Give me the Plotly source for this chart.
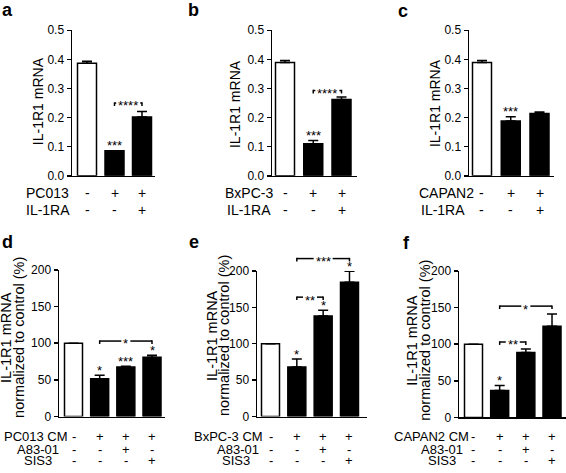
import plotly.graph_objects as go

W, H = 566, 473
FONT = "Liberation Sans, Arial, Helvetica, sans-serif"

# ---------------- data ----------------
mrna_a = [0.387, 0.086, 0.202]
err_a = [0.007, 0.0, 0.019]
mrna_b = [0.389, 0.110, 0.262]
err_b = [0.007, 0.011, 0.009]
mrna_c = [0.389, 0.188, 0.214]
err_c = [0.007, 0.015, 0.005]

norm_d = [100, 51.5, 67.7, 80.9]
err_d = [0, 4.8, 1.0, 2.6]
norm_e = [100, 68, 138, 184.5]
err_e = [0, 11, 8, 15]
norm_f = [100, 36.8, 88.7, 124.6]
err_f = [0, 6.7, 4.8, 16.5]

top_row1 = ["-", "+", "+"]
top_row2 = ["-", "-", "+"]
bot_row1 = ["-", "+", "+", "+"]
bot_row2 = ["-", "-", "+", "-"]
bot_row3 = ["-", "-", "-", "+"]

labels_a = ["PC013", "IL-1RA"]
labels_b = ["BxPC-3", "IL-1RA"]
labels_c = ["CAPAN2", "IL-1RA"]
labels_d = ["PC013 CM", "A83-01", "SIS3"]
labels_e = ["BxPC-3 CM", "A83-01", "SIS3"]
labels_f = ["CAPAN2 CM", "A83-01", "SIS3"]

stars_a = ["", "***", ""]
stars_b = ["", "***", ""]
stars_c = ["", "***", ""]
stars_d = ["", "*", "***", "*"]
stars_e = ["", "*", "*", "*"]
stars_f = ["", "*", "", ""]

# (bar i, bar j, height in data units, label)
brackets_a = [(1, 2, 0.25, "****")]
brackets_b = [(1, 2, 0.293, "****")]
brackets_c = []
brackets_d = [(1, 3, 103, "*")]
brackets_e = [(1, 3, 217, "***"), (1, 2, 164, "**")]
brackets_f = [(1, 3, 152, "*"), (1, 2, 103, "**")]

top_ticks = [0.0, 0.1, 0.2, 0.3, 0.4, 0.5]
bot_ticks = [0, 50, 100, 150, 200]

# ---------------- layout geometry (pixels) ----------------
panels = [
    dict(key="a", vals=mrna_a, errs=err_a, stars=stars_a, brackets=brackets_a,
         rows=[top_row1, top_row2], labels=labels_a,
         xl=72, xr=155, ytop=24, ybot=174, c0=87, s=27.5, ymax=0.5, ticks=top_ticks, fmt=".1f",
         barpx=19, rowy=[192, 209], labx=[47.5, 47.5], title=["IL-1R1 mRNA"], titx=[38], tity=97,
         letter=(0, 15)),
    dict(key="b", vals=mrna_b, errs=err_b, stars=stars_b, brackets=brackets_b,
         rows=[top_row1, top_row2], labels=labels_b,
         xl=272, xr=357, ytop=24, ybot=174, c0=285, s=28.25, ymax=0.5, ticks=top_ticks, fmt=".1f",
         barpx=19, rowy=[192, 209], labx=[248.5, 248.5], title=["IL-1R1 mRNA"], titx=[235], tity=100,
         letter=(186, 15)),
    dict(key="c", vals=mrna_c, errs=err_c, stars=stars_c, brackets=brackets_c,
         rows=[top_row1, top_row2], labels=labels_c,
         xl=469, xr=554, ytop=24, ybot=174, c0=482, s=28.75, ymax=0.5, ticks=top_ticks, fmt=".1f",
         barpx=19, rowy=[192, 209], labx=[446, 443], title=["IL-1R1 mRNA"], titx=[435], tity=99,
         letter=(396, 16)),
    dict(key="d", vals=norm_d, errs=err_d, stars=stars_d, brackets=brackets_d,
         rows=[bot_row1, bot_row2, bot_row3], labels=labels_d,
         xl=59, xr=165, ytop=271, ybot=422, c0=73.5, s=26.17, ymax=200, ticks=bot_ticks, fmt="d",
         barpx=18, rowy=[443, 456, 467], labx=[36, 37.5, 38],
         title=["IL-1R1 mRNA", "normalized to control (%)"], titx=[6, 19], tity=341,
         letter=(0, 255)),
    dict(key="e", vals=norm_e, errs=err_e, stars=stars_e, brackets=brackets_e,
         rows=[bot_row1, bot_row2, bot_row3], labels=labels_e,
         xl=257, xr=367, ytop=272, ybot=422, c0=270.5, s=26.33, ymax=200, ticks=bot_ticks, fmt="d",
         barpx=18, rowy=[443, 456, 467], labx=[228, 237.5, 236],
         title=["IL-1R1 mRNA", "normalized to control (%)"], titx=[212, 224], tity=339,
         letter=(187, 255)),
    dict(key="f", vals=norm_f, errs=err_f, stars=stars_f, brackets=brackets_f,
         rows=[bot_row1, bot_row2, bot_row3], labels=labels_f,
         xl=459, xr=566, ytop=272, ybot=423, c0=473.5, s=26.17, ymax=200, ticks=bot_ticks, fmt="d",
         barpx=18, rowy=[443, 456, 467], labx=[431, 442, 442],
         title=["IL-1R1 mRNA", "normalized to control (%)"], titx=[412, 425], tity=344,
         letter=(401, 256)),
]


def px(x):
    return x / W


def py(y):
    return 1 - y / H


fig = go.Figure()
annotations = []
shapes = []

for k, p in enumerate(panels):
    n = len(p["vals"])
    xa = "x" if k == 0 else f"x{k + 1}"
    ya = "y" if k == 0 else f"y{k + 1}"
    xname = "xaxis" if k == 0 else f"xaxis{k + 1}"
    yname = "yaxis" if k == 0 else f"yaxis{k + 1}"
    s, c0 = p["s"], p["c0"]
    xrange_ = [(p["xl"] - c0) / s, (p["xr"] - c0) / s]
    colors = ["white"] + ["black"] * (n - 1)
    top = p["ymax"] < 1
    fig.add_trace(go.Bar(
        x=list(range(n)), y=p["vals"], xaxis=xa, yaxis=ya,
        width=p["barpx"] / s,
        marker=dict(color=colors, line=dict(color="black", width=1.5)),
        error_y=dict(type="data", array=p["errs"], arrayminus=[0] * n, symmetric=False,
                     color="black", thickness=1.5, width=5),
        showlegend=False, hoverinfo="skip",
    ))
    fig.layout[xname] = dict(
        domain=[px(p["xl"]), px(p["xr"])], range=xrange_, anchor=ya,
        showline=True, linecolor="black", linewidth=1.5, showticklabels=False,
        ticks="", showgrid=False, zeroline=False, fixedrange=True,
    )
    fig.layout[yname] = dict(
        domain=[py(p["ybot"]), py(p["ytop"])], range=[0, p["ymax"]], anchor=xa,
        showline=True, linecolor="black", linewidth=1.5, ticks="outside", ticklen=4,
        tickwidth=1.5, tickcolor="black", tickvals=p["ticks"], tickformat=p["fmt"],
        tickfont=dict(family=FONT, size=12, color="black"),
        showgrid=False, zeroline=False, fixedrange=True,
    )

    def X(i):
        return c0 + i * s

    def Y(v):
        return p["ybot"] - v / p["ymax"] * (p["ybot"] - p["ytop"])

    # stars above bars
    for i, st in enumerate(p["stars"]):
        if st:
            ytopbar = Y(p["vals"][i] + p["errs"][i])
            annotations.append(dict(
                x=px(X(i)), y=py(ytopbar - 8 + 3), xref="paper", yref="paper",
                text=st, showarrow=False, xanchor="center", yanchor="middle",
                font=dict(family=FONT, size=13, color="black"),
            ))
    # brackets
    for (i, j, hv, lab) in p["brackets"]:
        x1, x2, yb = X(i), X(j), Y(hv)
        mid = (x1 + x2) / 2
        gap = len(lab) * 2.5 + 2
        segs = [(x1, yb - 0.75, x1, yb + 3), (x2, yb - 0.75, x2, yb + 3),
                (x1, yb, mid - gap, yb), (mid + gap, yb, x2, yb)]
        for (ax0, ay0, ax1, ay1) in segs:
            shapes.append(dict(type="line", xref="paper", yref="paper",
                               x0=px(ax0), y0=py(ay0), x1=px(ax1), y1=py(ay1),
                               line=dict(color="black", width=1.5)))
        annotations.append(dict(
            x=px(mid), y=py(yb + 3), xref="paper", yref="paper", text=lab,
            showarrow=False, xanchor="center", yanchor="middle",
            font=dict(family=FONT, size=13, color="black"),
        ))
    # sign rows and labels
    fs = 14 if top else 13
    for r, row in enumerate(p["rows"]):
        yr = p["rowy"][r]
        annotations.append(dict(
            x=px(p["labx"][r]), y=py(yr), xref="paper", yref="paper", text=p["labels"][r],
            showarrow=False, xanchor="center", yanchor="middle",
            font=dict(family=FONT, size=fs, color="black"),
        ))
        for i, sg in enumerate(row):
            annotations.append(dict(
                x=px(X(i)), y=py(yr), xref="paper", yref="paper", text=sg,
                showarrow=False, xanchor="center", yanchor="middle",
                font=dict(family=FONT, size=fs, color="black"),
            ))
    # y-axis titles
    for t, tx in zip(p["title"], p["titx"]):
        annotations.append(dict(
            x=px(tx), y=py(p["tity"]), xref="paper", yref="paper", text=t,
            textangle=-90, showarrow=False, xanchor="center", yanchor="middle",
            font=dict(family=FONT, size=14 if top else 14.5, color="black"),
        ))
    # panel letter (anchored at its bottom edge)
    lx, ly = p["letter"]
    annotations.append(dict(
        x=px(lx), y=py(ly), xref="paper", yref="paper", text=f"<b>{p['key']}</b>",
        showarrow=False, xanchor="left", yanchor="bottom",
        font=dict(family=FONT, size=18, color="black"),
    ))

fig.update_layout(
    width=W, height=H, margin=dict(l=0, r=0, t=0, b=0),
    paper_bgcolor="white", plot_bgcolor="white",
    annotations=annotations, shapes=shapes, bargap=0,
    font=dict(family=FONT, color="black"),
)

fig.write_html(
    "out.html",
    config={"displayModeBar": False, "staticPlot": True},
    post_script="document.body.style.margin='0';document.body.style.padding='0';document.body.style.overflow='hidden';",
)
